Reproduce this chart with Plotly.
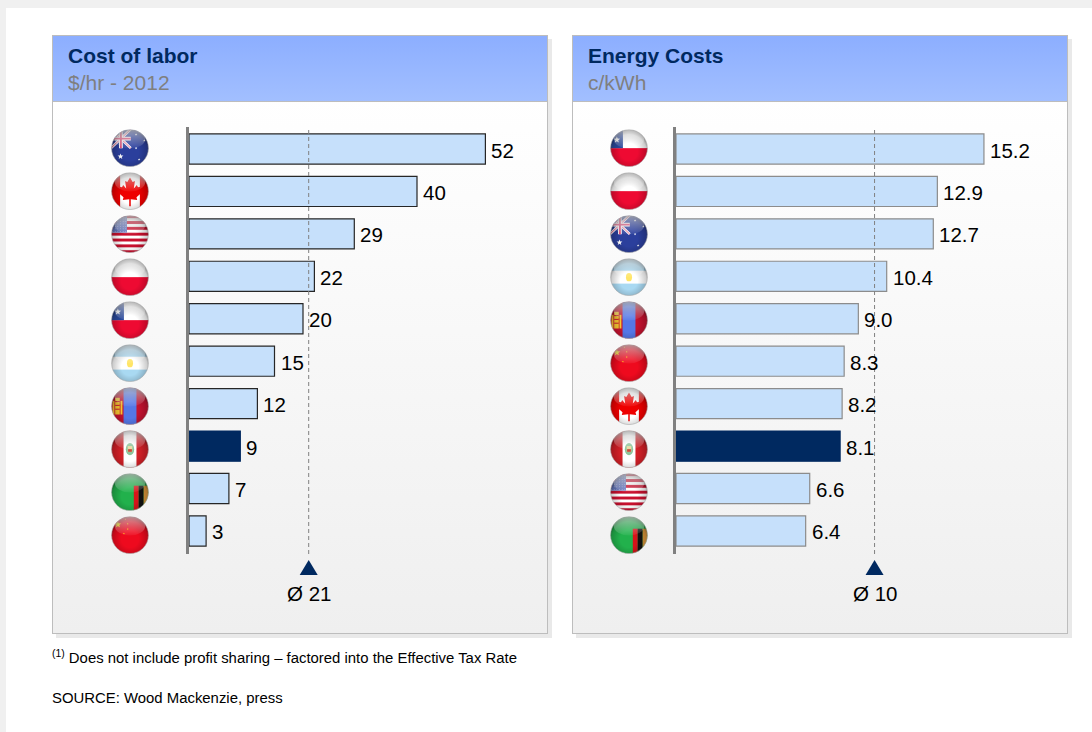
import base64
import math
import plotly.graph_objects as go

# ---------- data ----------
labor_countries = ["Australia", "Canada", "USA", "Poland", "Chile", "Argentina", "Mongolia", "Peru", "Zambia", "China"]
labor_values = [52, 40, 29, 22, 20, 15, 12, 9, 7, 3]
labor_mean = 21
labor_mean_label = "Ø 21"

energy_countries = ["Chile", "Poland", "Australia", "Argentina", "Mongolia", "China", "Canada", "Peru", "USA", "Zambia"]
energy_values = [15.2, 12.9, 12.7, 10.4, 9.0, 8.3, 8.2, 8.1, 6.6, 6.4]
energy_mean = 9.8
energy_mean_label = "Ø 10"

highlight = "Peru"
titles = ["Cost of labor", "Energy Costs"]
subtitles = ["$/hr - 2012", "c/kWh"]
footnote = "<sup>(1)</sup> Does not include profit sharing – factored into the Effective Tax Rate"
source = "SOURCE: Wood Mackenzie, press"

# ---------- page geometry ----------
W, H = 1092, 732
NAVY = "#002960"
BAR = "#C6E0FB"
FONT = "Liberation Sans, Arial, sans-serif"


def px(x):
    return x / W


def py(y):
    return 1 - y / H


def data_uri(svg):
    return "data:image/svg+xml;base64," + base64.b64encode(svg.encode()).decode()


# ---------- page background (panels with gradients) ----------
def panel(x):
    return f'''
    <rect x="{x+4}" y="39" width="496" height="599" fill="#E9E9E9"/>
    <rect x="{x}.5" y="35.5" width="495" height="598" fill="url(#body)" stroke="#BDBDBD"/>
    <rect x="{x}.5" y="35.5" width="495" height="66" fill="url(#head)" stroke="#BDBDBD"/>'''


background = f'''<svg xmlns="http://www.w3.org/2000/svg" width="{W}" height="{H}" viewBox="0 0 {W} {H}">
<defs>
<linearGradient id="body" x1="0" y1="0" x2="0" y2="1"><stop offset="0.1" stop-color="#FFFFFF"/><stop offset="1" stop-color="#EFEFEF"/></linearGradient>
<linearGradient id="head" x1="0" y1="0" x2="0" y2="1"><stop offset="0" stop-color="#8CAEFF"/><stop offset="1" stop-color="#A2BFFF"/></linearGradient>
</defs>
<rect width="{W}" height="{H}" fill="#FFFFFF"/>
<rect width="{W}" height="8" fill="#F0F0F0"/>
<rect width="6" height="{H}" fill="#F0F0F0"/>
{panel(52)}{panel(572)}
</svg>'''


# ---------- flags ----------
def star(cx, cy, r, fill):
    pts = []
    for k in range(10):
        a = -math.pi / 2 + k * math.pi / 5
        rr = r if k % 2 == 0 else r * 0.42
        pts.append(f"{cx + rr * math.cos(a):.1f},{cy + rr * math.sin(a):.1f}")
    return f'<polygon points="{" ".join(pts)}" fill="{fill}"/>'


def fl_australia():
    s = '<rect width="100" height="100" fill="#2B3F9C"/>'
    s += '<path d="M0 0L52 50M52 0L0 50" stroke="#FFFFFF" stroke-width="7"/>'
    s += '<path d="M0 0L52 50M52 0L0 50" stroke="#E0507A" stroke-width="2.5"/>'
    s += '<path d="M26 0V50M0 25H52" stroke="#FFFFFF" stroke-width="10"/>'
    s += '<path d="M26 0V50M0 25H52" stroke="#E0507A" stroke-width="5"/>'
    s += star(25, 72, 8, "#FFF")
    for c in [(66, 50), (88, 30), (74, 80), (66, 14)]:
        s += star(c[0], c[1], 3.5, "#FFF")
    return s


def fl_canada():
    s = '<rect width="100" height="100" fill="#FFFFFF"/>'
    s += '<rect width="24" height="100" fill="#EE0000"/><rect x="76" width="24" height="100" fill="#EE0000"/>'
    s += ('<polygon fill="#EE0000" points="50,14 57,26 63,23 60,43 68,34 71,40 80,38 77,50 82,53 '
          '67,66 69,73 52,71 52,90 48,90 48,71 31,73 33,66 18,53 23,50 20,38 29,40 32,34 40,43 37,23 43,26"/>')
    return s


def fl_usa():
    s = '<rect width="100" height="100" fill="#FFFFFF"/>'
    for i in range(7):
        s += f'<rect y="{i * 15.4:.1f}" width="100" height="7.7" fill="#C8102E"/>'
    s += '<rect width="42" height="46" fill="#6678BE"/>'
    for r in range(6):
        for c in range(6):
            s += f'<circle cx="{4 + c * 7}" cy="{10 + r * 6.5}" r="1.1" fill="#DDE"/>'
    return s


def fl_poland():
    return '<rect width="100" height="100" fill="#FFFFFF"/><rect y="50" width="100" height="50" fill="#EE0A32"/>'


def fl_chile():
    s = '<rect width="100" height="100" fill="#FFFFFF"/><rect y="50" width="100" height="50" fill="#EE0A32"/>'
    s += '<rect width="34" height="50" fill="#2A4A9E"/>' + star(18, 28, 9, "#FFF")
    return s


def fl_argentina():
    s = '<rect width="100" height="100" fill="#FFFFFF"/>'
    s += '<rect width="100" height="33" fill="#A9D9F2"/><rect y="67" width="100" height="33" fill="#A9D9F2"/>'
    s += '<ellipse cx="50" cy="50" rx="8" ry="11" fill="#FFE566"/>'
    return s


def fl_mongolia():
    s = '<rect width="100" height="100" fill="#C4122F"/><rect x="33" width="34" height="100" fill="#5577E6"/>'
    s += '<rect x="4" y="36" width="5" height="36" fill="#F4C430"/><rect x="25" y="36" width="5" height="36" fill="#F4C430"/>'
    s += '<rect x="11" y="28" width="12" height="44" fill="#F4C430"/>'
    s += '<path d="M11 38H23M11 48H23M11 58H23" stroke="#C4122F" stroke-width="2.5"/>'
    return s


def fl_peru():
    s = '<rect width="100" height="100" fill="#D32027"/><rect x="33" width="34" height="100" fill="#FFFFFF"/>'
    s += '<ellipse cx="50" cy="50" rx="11" ry="16" fill="#8FC39A"/><rect x="44" y="42" width="12" height="15" fill="#E8D9A0"/>'
    s += '<rect x="45" y="50" width="10" height="7" fill="#C94A3A"/>'
    return s


def fl_zambia():
    s = '<rect width="100" height="100" fill="#22B14C"/>'
    s += '<rect x="60" y="33" width="13" height="67" fill="#D7141A"/>'
    s += '<rect x="73" y="33" width="13" height="67" fill="#111111"/>'
    s += '<rect x="86" y="33" width="14" height="67" fill="#D9963A"/>'
    return s


def fl_china():
    s = '<rect width="100" height="100" fill="#EE0A1E"/>' + star(18, 22, 9, "#FFDE00")
    for c in [(38, 8), (44, 20), (44, 34), (34, 46)]:
        s += star(c[0], c[1], 2.4, "#FFDE00")
    return s


FLAGS = {"Australia": fl_australia, "Canada": fl_canada, "USA": fl_usa, "Poland": fl_poland, "Chile": fl_chile,
         "Argentina": fl_argentina, "Mongolia": fl_mongolia, "Peru": fl_peru, "Zambia": fl_zambia, "China": fl_china}


def flag_svg(name):
    return f'''<svg xmlns="http://www.w3.org/2000/svg" width="76" height="76" viewBox="0 0 100 100">
<defs>
<clipPath id="c"><circle cx="50" cy="50" r="48.5"/></clipPath>
<radialGradient id="shade" cx="50%" cy="60%" r="58%"><stop offset="0.4" stop-color="#000" stop-opacity="0"/><stop offset="0.8" stop-color="#000" stop-opacity="0.2"/><stop offset="1" stop-color="#000" stop-opacity="0.55"/></radialGradient>
<linearGradient id="gloss" x1="0" y1="0" x2="0" y2="1"><stop offset="0" stop-color="#FFF" stop-opacity="0.55"/><stop offset="1" stop-color="#FFF" stop-opacity="0.05"/></linearGradient>
</defs>
<g clip-path="url(#c)">{FLAGS[name]()}
<circle cx="50" cy="50" r="49" fill="url(#shade)"/>
<ellipse cx="50" cy="26" rx="40" ry="25" fill="url(#gloss)"/></g>
<circle cx="50" cy="50" r="48.5" fill="none" stroke="#A8A8A8" stroke-width="1.6"/>
</svg>'''


# ---------- figure ----------
fig = go.Figure()

PANELS = [
    dict(names=labor_countries, vals=labor_values, mean=labor_mean, mean_label=labor_mean_label, x="x", y="y",
         fmt="{:.0f}", line="#262626", x0=189, x1=548, xmax=(548 - 189) / 5.70, flagx=130, title_x=67),
    dict(names=energy_countries, vals=energy_values, mean=energy_mean, mean_label=energy_mean_label, x="x2", y="y2",
         fmt="{:.1f}", line="#8C8C8C", x0=676, x1=1068, xmax=(1068 - 676) / 20.26, flagx=629, title_x=587),
]

images = [dict(source=data_uri(background), xref="paper", yref="paper", x=0, y=1, sizex=1, sizey=1,
               xanchor="left", yanchor="top", sizing="stretch", layer="below")]
shapes = []
annotations = []

Y_TOP, Y_BOT = 127, 554
ROW = 42.44
range_top = (Y_TOP - 149) / ROW
range_bot = (Y_BOT - 149) / ROW

for i, p in enumerate(PANELS):
    colors = [NAVY if n == highlight else BAR for n in p["names"]]
    lines = [NAVY if n == highlight else p["line"] for n in p["names"]]
    fig.add_trace(go.Bar(
        y=p["names"], x=p["vals"], orientation="h", width=0.71, xaxis=p["x"], yaxis=p["y"],
        marker=dict(color=colors, line=dict(color=lines, width=1.2)),
        showlegend=False, hoverinfo="x+y",
    ))

    # value labels
    for n, v in zip(p["names"], p["vals"]):
        annotations.append(dict(text=p["fmt"].format(v), xref=p["x"], yref=p["y"], x=v, y=n, xanchor="left",
                                yanchor="middle", xshift=5, yshift=-1, showarrow=False, borderpad=0,
                                font=dict(family=FONT, size=20.5, color="#000000")))

    # flags
    for k, n in enumerate(p["names"]):
        images.append(dict(source=data_uri(flag_svg(n)), xref="paper", yref=p["y"], x=px(p["flagx"]), y=k * 43.0 / ROW - 0.02,
                           sizex=38 / W, sizey=38 / ROW, xanchor="center", yanchor="middle", sizing="stretch", layer="above"))

    # mean line + triangle + label
    shapes.append(dict(type="line", xref=p["x"], yref="paper", x0=p["mean"], x1=p["mean"], y0=py(130), y1=py(Y_BOT),
                       line=dict(color="#808080", width=1, dash="4px,3px"), layer="above"))
    shapes.append(dict(type="path", xref=p["x"], yref="paper", xsizemode="pixel", ysizemode="pixel",
                       xanchor=p["mean"], yanchor=py(575), path="M -9 0 L 9 0 L 0 15 Z",
                       fillcolor=NAVY, line=dict(width=0), layer="above"))
    annotations.append(dict(text=p["mean_label"], xref=p["x"], yref="paper", x=p["mean"], y=py(593),
                            xanchor="center", yanchor="middle", showarrow=False,
                            font=dict(family=FONT, size=20.5, color="#000000")))

    # titles
    annotations.append(dict(text=f"<b>{titles[i]}</b>", xref="paper", yref="paper", x=px(p["title_x"]), y=py(56),
                            xanchor="left", yanchor="middle", showarrow=False, borderpad=0,
                            font=dict(family=FONT, size=21, color=NAVY)))
    annotations.append(dict(text=subtitles[i], xref="paper", yref="paper", x=px(p["title_x"]), y=py(82),
                            xanchor="left", yanchor="middle", showarrow=False, borderpad=0,
                            font=dict(family=FONT, size=21, color="#7F7F7F")))

annotations.append(dict(text=footnote, xref="paper", yref="paper", x=px(51), y=py(657), xanchor="left", yanchor="middle",
                        showarrow=False, borderpad=0, font=dict(family=FONT, size=14.9, color="#000000")))
annotations.append(dict(text=source, xref="paper", yref="paper", x=px(51), y=py(698), xanchor="left", yanchor="middle",
                        showarrow=False, borderpad=0, font=dict(family=FONT, size=14.9, color="#000000")))


def xaxis(p):
    return dict(domain=[px(p["x0"]), px(p["x1"])], range=[0, p["xmax"]], visible=False, fixedrange=True)


def yaxis(p, anchor):
    return dict(domain=[py(Y_BOT), py(Y_TOP)], type="category", categoryorder="array", categoryarray=p["names"],
                range=[range_bot, range_top], anchor=anchor, showticklabels=False, ticks="", showgrid=False,
                zeroline=False, showline=True, linecolor="#808080", linewidth=3, fixedrange=True)


fig.update_layout(
    width=W, height=H, autosize=False, margin=dict(l=0, r=0, t=0, b=0, pad=0),
    paper_bgcolor="#FFFFFF", plot_bgcolor="rgba(0,0,0,0)", font=dict(family=FONT),
    showlegend=False,
    xaxis=xaxis(PANELS[0]), yaxis=yaxis(PANELS[0], "x"),
    xaxis2=xaxis(PANELS[1]), yaxis2=yaxis(PANELS[1], "x2"),
    images=images, shapes=shapes, annotations=annotations,
)

fig.write_html(
    "out.html",
    config=dict(displayModeBar=False),
    post_script="document.body.style.margin='0';document.documentElement.style.overflow='hidden';",
)
